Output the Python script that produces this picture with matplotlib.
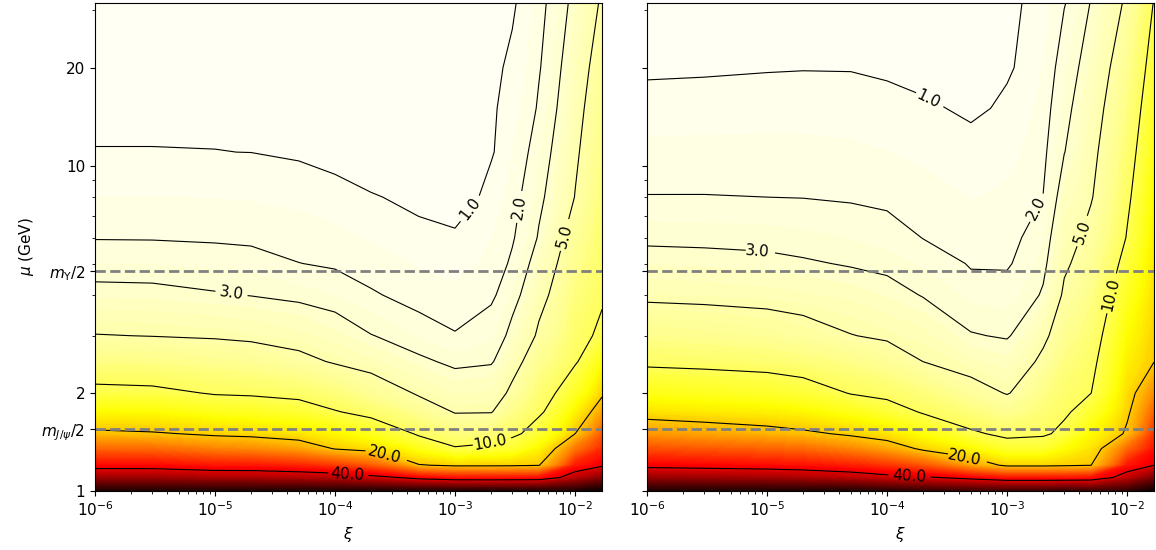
# Ratio contour maps in the (xi, mu) plane, two panels

import numpy as np
import matplotlib
matplotlib.use("Agg")
import matplotlib.pyplot as plt
from matplotlib.ticker import NullFormatter

# -------------------------------
# Grid
# -------------------------------
xi = [1e-6, 3e-6, 1e-5, 2e-5, 5e-5, 1e-4, 2e-4, 5e-4, 1e-3, 2e-3, 3e-3, 5e-3, 1e-2, 1.68e-2]
mu = [1, 1.1, 1.2, 1.35, 1.5, 1.75, 2, 2.5, 3, 4, 5, 6, 8, 11, 15, 20, 31.6]

line_levels = [1, 2, 3, 5, 10, 20, 40]

# one list per xi value, values from mu = 1 upwards
ratio_left = [
    [58, 46.4, 37.5, 28.7, 20.9, 15.3, 10.9, 7.44, 5.06, 3.33, 2.49, 1.96, 1.51, 1.01, 0.92, 0.84, 0.72],
    [58, 46.4, 37.4, 28.4, 20.4, 15.1, 10.7, 7.30, 4.94, 3.29, 2.47, 1.95, 1.51, 1.01, 0.92, 0.84, 0.72],
    [58, 45.2, 36.0, 26.2, 18.95, 13.6, 9.64, 6.76, 4.74, 3.08, 2.36, 1.90, 1.48, 1.005, 0.92, 0.84, 0.72],
    [58, 45.2, 35.8, 25.4, 18.5, 13.1, 9.42, 6.38, 4.54, 2.96, 2.27, 1.86, 1.45, 0.995, 0.92, 0.85, 0.73],
    [58, 44.5, 34.6, 23.2, 17.4, 12.0, 8.85, 5.56, 4.15, 2.71, 2.01, 1.75, 1.35, 0.90, 0.85, 0.82, 0.76],
    [58, 43.7, 32.7, 19.6, 15.8, 10.2, 7.91, 4.73, 3.65, 2.46, 1.89, 1.63, 1.21, 0.76, 0.78, 0.80, 0.78],
    [58, 41.8, 29.7, 18.0, 13.3, 8.65, 6.34, 4.12, 3.03, 2.07, 1.71, 1.45, 1.04, 0.60, 0.70, 0.78, 0.80],
    [58, 37.9, 20.3, 13.7, 9.32, 6.53, 4.67, 3.20, 2.42, 1.65, 1.45, 1.19, 0.80, 0.80, 0.80, 0.80, 0.80],
    [58, 36.2, 19.05, 10.3, 7.77, 4.81, 3.93, 2.70, 2.04, 1.63, 1.33, 1.08, 0.70, 0.72, 0.74, 0.76, 0.78],
    [58, 36.0, 19.1, 11.2, 8.0, 4.87, 4.06, 2.87, 2.38, 1.86, 1.66, 1.49, 1.22, 0.93, 0.90, 0.88, 0.85],
    [58, 36.2, 19.25, 12.3, 9.15, 7.17, 5.45, 4.16, 3.34, 2.57, 2.12, 1.92, 1.73, 1.51, 1.31, 1.115, 0.90],
    [58, 36.4, 19.8, 15.8, 12.1, 9.32, 8.33, 6.69, 5.34, 4.29, 3.63, 3.10, 2.74, 2.42, 2.10, 1.93, 1.75],
    [58, 43.7, 35.6, 27.3, 19.95, 16.1, 12.8, 9.57, 8.86, 7.75, 6.88, 6.17, 5.05, 4.64, 4.28, 3.94, 3.40],
    [60, 48.3, 39.2, 34.3, 29.9, 23.5, 19.0, 14.5, 10.8, 9.5, 9.04, 8.67, 8.09, 7.44, 6.81, 6.23, 5.30],
]

ratio_right = [
    [58, 47.0, 38.3, 30.9, 24.3, 17.6, 13.9, 9.08, 7.03, 4.50, 3.45, 2.77, 2.02, 1.62, 1.24, 0.88, 0.85],
    [58, 46.4, 37.8, 30.0, 23.1, 17.0, 13.3, 8.82, 6.74, 4.39, 3.37, 2.74, 2.02, 1.63, 1.255, 0.91, 0.86],
    [58, 45.9, 37.2, 29.1, 21.8, 16.4, 12.6, 8.45, 6.30, 4.22, 3.23, 2.69, 2.00, 1.64, 1.28, 0.955, 0.87],
    [58, 45.2, 36.6, 28.3, 20.85, 15.7, 11.7, 8.00, 5.81, 4.06, 3.10, 2.63, 1.98, 1.63, 1.29, 0.972, 0.87],
    [58, 43.7, 35.1, 25.9, 18.98, 13.8, 9.75, 7.16, 5.05, 3.77, 2.89, 2.46, 1.91, 1.58, 1.26, 0.967, 0.87],
    [57, 41.8, 33.25, 22.9, 17.4, 11.8, 8.97, 6.24, 4.65, 3.42, 2.71, 2.29, 1.83, 1.51, 1.19, 0.894, 0.86],
    [56, 40.6, 30.2, 18.8, 14.6, 9.54, 7.82, 4.98, 4.15, 2.92, 2.39, 1.98, 1.70, 1.37, 1.06, 0.82, 0.82],
    [55, 38.1, 22.75, 15.4, 10.5, 7.86, 5.85, 4.07, 3.06, 2.33, 1.92, 1.75, 1.48, 1.18, 0.897, 0.85, 0.80],
    [55, 35.8, 18.9, 12.2, 8.99, 6.62, 4.85, 3.68, 2.89, 2.26, 1.92, 1.79, 1.58, 1.35, 1.12, 0.909, 0.85],
    [55, 35.8, 18.9, 12.2, 9.49, 8.29, 7.25, 5.52, 4.46, 3.13, 2.71, 2.44, 2.01, 1.84, 1.68, 1.53, 1.30],
    [56, 35.8, 19.3, 14.9, 10.97, 9.38, 8.72, 7.63, 6.74, 5.34, 4.67, 4.27, 3.64, 2.97, 2.69, 2.42, 1.95],
    [55, 36.4, 19.9, 17.55, 15.45, 12.4, 9.94, 9.07, 8.35, 7.22, 6.34, 5.63, 4.83, 4.42, 4.02, 3.64, 3.05],
    [56, 43.3, 36.0, 28.5, 20.8, 19.1, 18.1, 16.5, 15.2, 13.1, 11.5, 10.2, 9.28, 8.38, 7.50, 6.69, 5.40],
    [60, 49.6, 40.0, 36.7, 33.7, 29.4, 25.6, 19.9, 19.2, 18.1, 17.25, 16.55, 15.45, 14.2, 13.05, 11.9, 10.2],
]

# half masses of J/psi and Upsilon (GeV)
m_jpsi_half = 3.0969 / 2
m_ups_half = 9.4603 / 2

ytick_vals = [1, m_jpsi_half, 2, m_ups_half, 10, 20]
ytick_text = ["1", r"$m_{J/\psi}/2$", "2", r"$m_{\Upsilon}/2$", "10", "20"]

# where the contour labels sit
label_pos_left = [(1.37e-3, 7.3), (3.6e-3, 7.4), (1.37e-5, 4.06), (7.9e-3, 6.1),
                  (2.0e-3, 1.355), (2.55e-4, 1.28), (1.26e-4, 1.11)]
label_pos_right = [(2.1e-4, 15.3), (1.76e-3, 7.4), (8.2e-6, 5.27), (4.6e-3, 6.2),
                   (7.8e-3, 4.0), (4.35e-4, 1.22), (1.52e-4, 1.10)]

# -------------------------------
# Figure
# -------------------------------
fig = plt.figure(figsize=(11.56, 5.5), dpi=100)
ax1 = fig.add_axes([0.0822, 0.1073, 0.4386, 0.8873])
ax2 = fig.add_axes([0.5597, 0.1073, 0.4386, 0.8873], sharey=ax1)

fill_levels = np.linspace(0, 60, 121)

for ax, cols, pos in ((ax1, ratio_left, label_pos_left),
                      (ax2, ratio_right, label_pos_right)):
    ax.set_xscale("log")
    ax.set_yscale("log")
    Z = np.array(cols).T
    ax.contourf(xi, mu, Z, levels=fill_levels, cmap="hot_r", extend="max")
    cs = ax.contour(xi, mu, Z, levels=line_levels, colors="k", linewidths=0.8)
    ax.clabel(cs, fmt="%1.1f", fontsize=11, manual=pos, inline_spacing=4)

    ax.axhline(m_jpsi_half, color="gray", ls="--", lw=2)
    ax.axhline(m_ups_half, color="gray", ls="--", lw=2)

    ax.set_xlim(1e-6, 1.68e-2)
    ax.set_ylim(1, 31.6)
    ax.set_xlabel(r"$\xi$", fontsize=11)
    ax.tick_params(labelsize=11)

ax1.set_yticks(ytick_vals)
ax1.set_yticklabels(ytick_text)
ax1.yaxis.set_minor_formatter(NullFormatter())
ax1.set_ylabel(r"$\mu$ (GeV)", fontsize=11)
ax2.tick_params(labelleft=False)

plt.savefig("out.png", dpi=100)
